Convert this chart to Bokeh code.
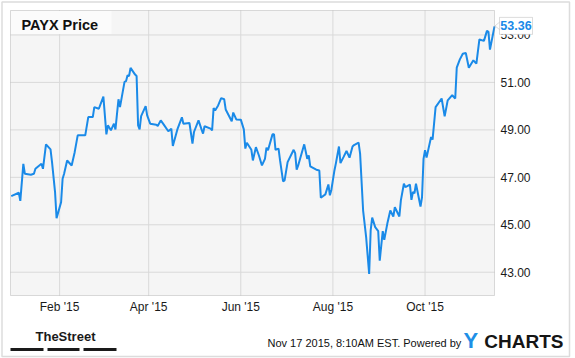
from datetime import datetime
from bokeh.plotting import figure
from bokeh.models import Range1d, Label, BoxAnnotation, PolyAnnotation, ColumnDataSource
from bokeh.core.properties import value
from bokeh.embed import file_html
from bokeh.resources import INLINE

# ---------------- data ----------------
dates = [
    "2014-12-31", "2015-01-05", "2015-01-06", "2015-01-08", "2015-01-09", "2015-01-13",
    "2015-01-15", "2015-01-16", "2015-01-20", "2015-01-21", "2015-01-23", "2015-01-26",
    "2015-01-27", "2015-01-29", "2015-01-30", "2015-02-02", "2015-02-03", "2015-02-04",
    "2015-02-06", "2015-02-09", "2015-02-11", "2015-02-13", "2015-02-18", "2015-02-20",
    "2015-02-23", "2015-02-24", "2015-02-27", "2015-03-02", "2015-03-04", "2015-03-05",
    "2015-03-07", "2015-03-09", "2015-03-10", "2015-03-12", "2015-03-13", "2015-03-16",
    "2015-03-17", "2015-03-18", "2015-03-19", "2015-03-20", "2015-03-23", "2015-03-24",
    "2015-03-25", "2015-03-26", "2015-03-27", "2015-03-30", "2015-03-31", "2015-04-02",
    "2015-04-06", "2015-04-07", "2015-04-09", "2015-04-11", "2015-04-14", "2015-04-16",
    "2015-04-17", "2015-04-20", "2015-04-21", "2015-04-23", "2015-04-24", "2015-04-28",
    "2015-04-30", "2015-05-01", "2015-05-04", "2015-05-06", "2015-05-07", "2015-05-08",
    "2015-05-12", "2015-05-13", "2015-05-14", "2015-05-15", "2015-05-17", "2015-05-19",
    "2015-05-21", "2015-05-22", "2015-05-26", "2015-05-27", "2015-05-29", "2015-06-01",
    "2015-06-03", "2015-06-04", "2015-06-05", "2015-06-08", "2015-06-09", "2015-06-11",
    "2015-06-13", "2015-06-15", "2015-06-17", "2015-06-18", "2015-06-19", "2015-06-22",
    "2015-06-23", "2015-06-24", "2015-06-26", "2015-06-27", "2015-06-29", "2015-06-30",
    "2015-07-02", "2015-07-06", "2015-07-07", "2015-07-08", "2015-07-09", "2015-07-13",
    "2015-07-15", "2015-07-16", "2015-07-17", "2015-07-21", "2015-07-23", "2015-07-24",
    "2015-07-27", "2015-07-29", "2015-07-30", "2015-07-31", "2015-08-02", "2015-08-03",
    "2015-08-05", "2015-08-06", "2015-08-08", "2015-08-10", "2015-08-12", "2015-08-14",
    "2015-08-15", "2015-08-18", "2015-08-19", "2015-08-21", "2015-08-23", "2015-08-25",
    "2015-08-26", "2015-08-27", "2015-08-29", "2015-08-31", "2015-09-01", "2015-09-03",
    "2015-09-04", "2015-09-06", "2015-09-08", "2015-09-10", "2015-09-11", "2015-09-14",
    "2015-09-15", "2015-09-17", "2015-09-18", "2015-09-21", "2015-09-22", "2015-09-23",
    "2015-09-24", "2015-09-25", "2015-09-28", "2015-09-29", "2015-09-30", "2015-10-01",
    "2015-10-02", "2015-10-05", "2015-10-06", "2015-10-08", "2015-10-12", "2015-10-14",
    "2015-10-16", "2015-10-19", "2015-10-21", "2015-10-22", "2015-10-24", "2015-10-26",
    "2015-10-28", "2015-10-30", "2015-11-02", "2015-11-04", "2015-11-06", "2015-11-09",
    "2015-11-11", "2015-11-12", "2015-11-13", "2015-11-16",
]
prices = [
    46.21, 46.35, 46.01, 47.57, 47.15, 47.11,
    47.15, 47.36, 47.57, 47.36, 48.39, 48.18,
    47.64, 46.38, 45.28, 45.95, 46.94, 47.15,
    47.71, 47.50, 48.06, 48.77, 48.77, 49.54,
    49.54, 49.96, 49.89, 50.40, 48.81, 49.19,
    48.98, 49.26, 49.02, 50.29, 49.96, 51.02,
    51.05, 51.30, 51.27, 51.61, 51.33, 51.27,
    49.19, 49.02, 49.58, 50.00, 49.61, 49.26,
    49.22, 49.16, 49.40, 49.22, 48.94, 49.05,
    48.32, 49.02, 49.19, 49.53, 49.26, 49.29,
    48.42, 48.91, 49.40, 49.02, 48.84, 49.15,
    49.05, 48.98, 49.92, 49.82, 50.03, 50.34,
    50.29, 49.86, 49.36, 49.73, 49.44, 49.43,
    49.02, 48.21, 48.46, 48.16, 47.71, 48.27,
    47.92, 47.50, 47.78, 48.25, 48.14, 48.81,
    48.81, 48.16, 48.21, 47.71, 46.83, 46.87,
    47.64, 48.16, 48.02, 47.32, 47.50, 48.39,
    47.78, 47.92, 47.46, 47.32, 47.29, 46.14,
    46.28, 46.70, 46.24, 46.48, 47.29, 47.60,
    48.30, 47.60, 47.85, 48.11, 47.83, 48.30,
    48.36, 48.46, 48.00, 45.60, 44.48, 42.93,
    44.76, 45.30, 44.90, 44.73, 43.49, 44.73,
    44.37, 45.04, 45.60, 45.35, 45.74, 45.35,
    46.03, 46.73, 46.59, 46.69, 46.05, 46.38,
    46.33, 46.73, 45.77, 46.16, 47.78, 48.14,
    47.83, 48.70, 48.59, 49.96, 50.32, 49.57,
    50.24, 50.46, 50.32, 51.62, 51.96, 52.21,
    52.24, 51.62, 51.93, 51.79, 52.81, 52.75,
    53.17, 53.13, 52.38, 53.36,
]
y_ticks = [43, 45, 47, 49, 51, 53]
x_tick_dates = ["2015-02-01", "2015-04-01", "2015-06-01", "2015-08-01", "2015-10-01"]
x_tick_labels = ["Feb '15", "Apr '15", "Jun '15", "Aug '15", "Oct '15"]
title_text = "PAYX Price"
footer_text = "Nov 17 2015, 8:10AM EST.  Powered by"

# ---------------- helpers ----------------
EPOCH = datetime(1970, 1, 1)


def parse(s):
    return datetime.strptime(s, "%Y-%m-%d")


def ms(d):
    return (d - EPOCH).total_seconds() * 1000.0


W, H = 575, 358
FL, FR, FT, FB = 10, 494, 10, 295          # plot area in pixels
X0 = ms(datetime(2014, 12, 30, 12))        # value at left edge of plot area
X1 = ms(datetime(2015, 11, 16))            # value at right edge of plot area
Y0, Y1 = 42.02, 54.03                      # values at bottom / top of plot area


def sx(px):
    return X0 + (px - FL) / (FR - FL) * (X1 - X0)


def sy(py):
    return Y1 - (py - FT) / (FB - FT) * (Y1 - Y0)


def to_px(xv):
    return FL + (xv - X0) / (X1 - X0) * (FR - FL)


def to_py(yv):
    return FT + (Y1 - yv) / (Y1 - Y0) * (FB - FT)


BLUE = "#1a8ae8"
GRID = "#d9d9d9"
EDGE = "#8c8c8c"
FONT = "Liberation Sans"

# the frame covers the whole canvas; the plot area is drawn inside it
p = figure(width=W, height=H, x_axis_type=None, y_axis_type=None,
           x_axis_location=None, y_axis_location=None,
           x_range=Range1d(sx(0), sx(W)), y_range=Range1d(sy(H), sy(0)),
           output_backend="svg", toolbar_location=None,
           min_border=0, min_border_left=0, min_border_right=0,
           min_border_top=0, min_border_bottom=0,
           background_fill_color="white", border_fill_color="white",
           outline_line_color=None)
p.xgrid.visible = False
p.ygrid.visible = False

# plot-area background
p.add_layout(BoxAnnotation(left=X0, right=X1, top=Y1, bottom=Y0, level="underlay",
                           fill_color="#f5f5f5", fill_alpha=1, line_alpha=0))

# grid lines from the tick arrays
tick_ms = [ms(parse(d)) for d in x_tick_dates]
p.segment(x0=tick_ms, x1=tick_ms, y0=[Y0] * len(tick_ms), y1=[Y1] * len(tick_ms),
          line_color=GRID, line_width=1)
p.segment(x0=[X0] * len(y_ticks), x1=[X1] * len(y_ticks), y0=y_ticks, y1=y_ticks,
          line_color=GRID, line_width=1)

# tick labels (y is the visual centre of the text)
p.text(x=tick_ms, y=[sy(306)] * len(tick_ms), text=x_tick_labels,
       text_font=value(FONT), text_font_size="12px", text_color="#1a1a1a",
       text_align="center", text_baseline="alphabetic")
p.text(x=[sx(500)] * len(y_ticks), y=y_ticks, text=[f"{v:.2f}" for v in y_ticks],
       text_font=value(FONT), text_font_size="12px", text_color="#1a1a1a",
       text_align="left", text_baseline="alphabetic")

# price line
src = ColumnDataSource(dict(x=[parse(d) for d in dates], y=prices))
p.line("x", "y", source=src, line_color=BLUE, line_width=2)

# plot-area outline
p.add_layout(BoxAnnotation(left=X0, right=X1, top=Y1, bottom=Y0,
                           fill_alpha=0, line_color=EDGE, line_width=1))

# title box
p.add_layout(BoxAnnotation(left=sx(FL + 0.5), right=sx(111), top=sy(FT + 0.5), bottom=sy(33.5),
                           fill_color="#fbfbfb", fill_alpha=1, line_alpha=0))
p.add_layout(Label(x=sx(21), y=sy(24.5), text=title_text, text_font=FONT,
                   text_font_size="14.5px", text_font_style="bold", text_color="#111111",
                   text_baseline="alphabetic"))

# last-price tag
lx = to_px(ms(parse(dates[-1])))
ly = to_py(prices[-1])
p.add_layout(PolyAnnotation(xs=[sx(lx + 6), sx(lx + 0.5), sx(lx + 6)],
                            ys=[sy(ly - 5), sy(ly - 0.5), sy(ly + 4)],
                            fill_color="white", fill_alpha=1, line_color=EDGE, line_width=1))
p.add_layout(BoxAnnotation(left=sx(lx + 5), right=sx(lx + 38), top=sy(ly - 9), bottom=sy(ly + 8),
                           fill_color="white", fill_alpha=1, line_color=EDGE, line_width=1))
p.add_layout(Label(x=sx(lx + 21.5), y=sy(ly - 0.5), text=f"{prices[-1]:.2f}", text_font=FONT,
                   text_font_size="12.5px", text_font_style="bold", text_color=BLUE,
                   text_align="center", text_baseline="alphabetic"))

# outer border
p.add_layout(BoxAnnotation(left=sx(1.5), right=sx(569), top=sy(1.5), bottom=sy(356),
                           fill_alpha=0, line_color="#8a8a8a", line_width=1.5))

# footer: TheStreet logo
p.add_layout(Label(x=sx(35), y=sy(336), text="TheStreet", text_font=FONT,
                   text_font_size="13px", text_font_style="bold", text_color="#1a1a1a",
                   text_baseline="alphabetic"))
for a, b in ((10, 43), (47, 79), (83, 116)):
    p.add_layout(BoxAnnotation(left=sx(a), right=sx(b), top=sy(347.5), bottom=sy(350.5),
                               fill_color="#1a1a1a", fill_alpha=1, line_alpha=0))

# footer text and YCHARTS logo
p.add_layout(Label(x=sx(267), y=sy(342), text=footer_text, text_font=FONT,
                   text_font_size="11px", text_color="#111111", text_baseline="alphabetic"))
p.add_layout(Label(x=sx(463), y=sy(340), text="Y", text_font=FONT,
                   text_font_size="22px", text_font_style="bold", text_color="#1e8fe6",
                   text_baseline="alphabetic"))
p.add_layout(Label(x=sx(563), y=sy(340.5), text="CHARTS", text_font=FONT,
                   text_font_size="19px", text_font_style="bold", text_color="#151515",
                   text_align="right", text_baseline="alphabetic"))

open("out.html", "w").write(file_html(p, INLINE))
